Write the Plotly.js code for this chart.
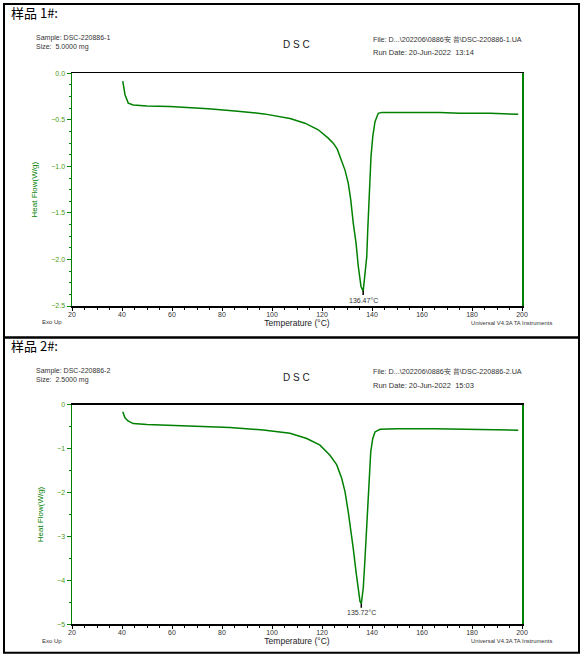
<!DOCTYPE html>
<html>
<head>
<meta charset="utf-8">
<script src="https://cdn.plot.ly/plotly-3.0.1.min.js"></script>
<style>html,body{margin:0;padding:0;background:#fff;}#chart{width:585px;height:656px;}</style>
</head>
<body>
<div id="chart"></div>
<script>
// Sample 1 (DSC-220886-1)
const temp1 = [40.3, 41.2, 42.5, 44.5, 50, 59.2, 74.5, 85.2, 96.8, 107.2, 113.2, 118.5, 122.5, 124.5, 126.1, 127.2, 129.2, 130.5, 131.5, 132.5, 133.6, 134.5, 135.6, 136.47, 137.2, 137.9, 138.3, 138.9, 139.6, 140.3, 141.2, 142.5, 143.9, 155, 167.2, 175, 187.2, 198.5];
const flow1 = [-0.083, -0.23, -0.32, -0.34, -0.35, -0.357, -0.382, -0.404, -0.436, -0.486, -0.536, -0.607, -0.697, -0.75, -0.815, -0.895, -1.04, -1.18, -1.36, -1.61, -1.82, -2.07, -2.29, -2.34, -2.18, -1.97, -1.68, -1.25, -0.895, -0.68, -0.52, -0.43, -0.42, -0.42, -0.42, -0.43, -0.43, -0.44];
// Sample 2 (DSC-220886-2)
const temp2 = [40.3, 41.2, 42.4, 44.5, 50, 60, 70, 83.2, 96.5, 107.2, 113.9, 119.2, 123.2, 125.9, 127.9, 129.2, 130.5, 131.5, 132.5, 133.6, 134.5, 135.2, 135.72, 136.5, 137.2, 137.9, 138.3, 138.9, 139.5, 140.3, 141.2, 143.2, 150, 165, 180, 198.5];
const flow2 = [-0.16, -0.30, -0.37, -0.43, -0.45, -0.47, -0.49, -0.52, -0.576, -0.65, -0.77, -0.92, -1.15, -1.37, -1.68, -1.98, -2.44, -2.82, -3.27, -3.80, -4.26, -4.48, -4.53, -4.18, -3.50, -2.82, -2.21, -1.60, -1.07, -0.77, -0.62, -0.56, -0.55, -0.55, -0.57, -0.58];
const peakT = [136.47, 135.72];
const peakV = [-2.34, -4.53];
const sampleTitles = ["样品 1#:", "样品 2#:"];
const sampleNames = ["Sample: DSC-220886-1", "Sample: DSC-220886-2"];
const sampleSizes = ["Size:  5.0000 mg", "Size:  2.5000 mg"];
const fileNames = ["File: D...\\202206\\0886安 普\\DSC-220886-1.UA", "File: D...\\202206\\0886安 普\\DSC-220886-2.UA"];
const runDates = ["Run Date: 20-Jun-2022  13:14", "Run Date: 20-Jun-2022  15:03"];
const yRanges = [[-2.5, 0], [-5, 0]];
const yDticks = [0.5, 1];
const yMinor = [0.125, 0.5];
const yFormats = [".1f", "d"];

const W = 585, H = 656;
const px = x => x / W;
const py = y => 1 - y / H;
const GREEN = "#008000";
const FONT = "Liberation Sans, Arial, sans-serif";
const CJK = "Noto Sans CJK SC, sans-serif";

// pixel layout of the two panels
const plotTop = [73.3, 404.7];
const plotBot = [306, 624.3];
const textOff = [0, 333];
const botOff = [0, 318.3];

const traces = [
  {x: temp1, y: flow1, xaxis: "x", yaxis: "y", mode: "lines", line: {color: GREEN, width: 1.5}, hoverinfo: "x+y"},
  {x: temp2, y: flow2, xaxis: "x2", yaxis: "y2", mode: "lines", line: {color: GREEN, width: 1.5}, hoverinfo: "x+y"}
];

function xaxisDef(i) {
  return {
    domain: [px(72), px(522)],
    anchor: i === 0 ? "y" : "y2",
    range: [20, 200], dtick: 20, tick0: 20,
    showgrid: false, zeroline: false,
    showline: true, linecolor: "#000", linewidth: 1.5, mirror: true,
    ticks: "outside", ticklen: 3, tickcolor: "#000", tickwidth: 1,
    ticklabelstandoff: -2,
    minor: {dtick: 5, ticks: "outside", ticklen: 2, tickcolor: "#000"},
    tickfont: {family: FONT, size: 7, color: "#333"},
    title: {text: "Temperature (°C)", font: {family: FONT, size: 8.5, color: "#222"}, standoff: 3}
  };
}
function yaxisDef(i) {
  return {
    domain: [py(plotBot[i]), py(plotTop[i])],
    anchor: i === 0 ? "x" : "x2",
    range: yRanges[i], dtick: yDticks[i], tick0: 0, tickformat: yFormats[i],
    showgrid: false, zeroline: false,
    showline: true, linecolor: GREEN, linewidth: 1.5, mirror: true,
    ticks: "outside", ticklen: 4, tickcolor: GREEN, tickwidth: 1,
    minor: {dtick: yMinor[i], ticks: "outside", ticklen: 2, tickcolor: GREEN},
    tickfont: {family: FONT, size: 7, color: "#4a9a10"},
    title: {text: "Heat Flow(W/g)", font: {family: FONT, size: 8, color: GREEN}, standoff: 12}
  };
}

const annotations = [];
const shapes = [];
for (let i = 0; i < 2; i++) {
  const o = textOff[i], b = botOff[i];
  annotations.push(
    {xref: "paper", yref: "paper", x: px(9), y: py(12 + o), xanchor: "left", yanchor: "middle", showarrow: false, text: sampleTitles[i], font: {family: CJK, size: 13, color: "#000"}},
    {xref: "paper", yref: "paper", x: px(35), y: py(38 + o), xanchor: "left", yanchor: "middle", showarrow: false, borderpad: 0, text: sampleNames[i], font: {family: FONT, size: 7, color: "#333"}},
    {xref: "paper", yref: "paper", x: px(35), y: py(46.5 + o), xanchor: "left", yanchor: "middle", showarrow: false, borderpad: 0, text: sampleSizes[i], font: {family: FONT, size: 7, color: "#333"}},
    {xref: "paper", yref: "paper", x: px(296), y: py(44 + o), xanchor: "center", yanchor: "middle", showarrow: false, text: "D S C", font: {family: FONT, size: 10, color: "#222"}},
    {xref: "paper", yref: "paper", x: px(371), y: py(39 + o), xanchor: "left", yanchor: "middle", showarrow: false, text: fileNames[i], font: {family: FONT, size: 7.2, color: "#333"}},
    {xref: "paper", yref: "paper", x: px(371), y: py(52.5 + o), xanchor: "left", yanchor: "middle", showarrow: false, text: runDates[i], font: {family: FONT, size: 7.5, color: "#333"}},
    {xref: "paper", yref: "paper", x: px(40), y: py(322.3 + b), xanchor: "left", yanchor: "middle", showarrow: false, text: "Exo Up", font: {family: FONT, size: 6, color: "#333"}},
    {xref: "paper", yref: "paper", x: px(469), y: py(323 + b), xanchor: "left", yanchor: "middle", showarrow: false, text: "Universal V4.3A TA Instruments", font: {family: FONT, size: 5.8, color: "#333"}},
    {xref: i === 0 ? "x" : "x2", yref: i === 0 ? "y" : "y2", x: peakT[i], y: peakV[i], showarrow: true, arrowhead: 0, arrowwidth: 1.5, arrowcolor: "#000", ax: 0, ay: 9,
     text: peakT[i].toFixed(2) + "°C", font: {family: FONT, size: 7, color: "#333"}}
  );
}
// outer frames
shapes.push(
  {type: "rect", xref: "paper", yref: "paper", x0: px(4), x1: px(579), y0: py(337.5), y1: py(4), line: {color: "#000", width: 2}},
  {type: "rect", xref: "paper", yref: "paper", x0: px(4), x1: px(579), y0: py(652.7), y1: py(337.5), line: {color: "#000", width: 2}}
);

const layout = {
  width: W, height: H,
  margin: {l: 0, r: 0, t: 0, b: 0},
  paper_bgcolor: "#fff", plot_bgcolor: "#fff",
  showlegend: false,
  xaxis: xaxisDef(0), yaxis: yaxisDef(0),
  xaxis2: xaxisDef(1), yaxis2: yaxisDef(1),
  annotations: annotations,
  shapes: shapes
};
Plotly.newPlot("chart", traces, layout, {displayModeBar: false, staticPlot: true});
</script>
</body>
</html>
